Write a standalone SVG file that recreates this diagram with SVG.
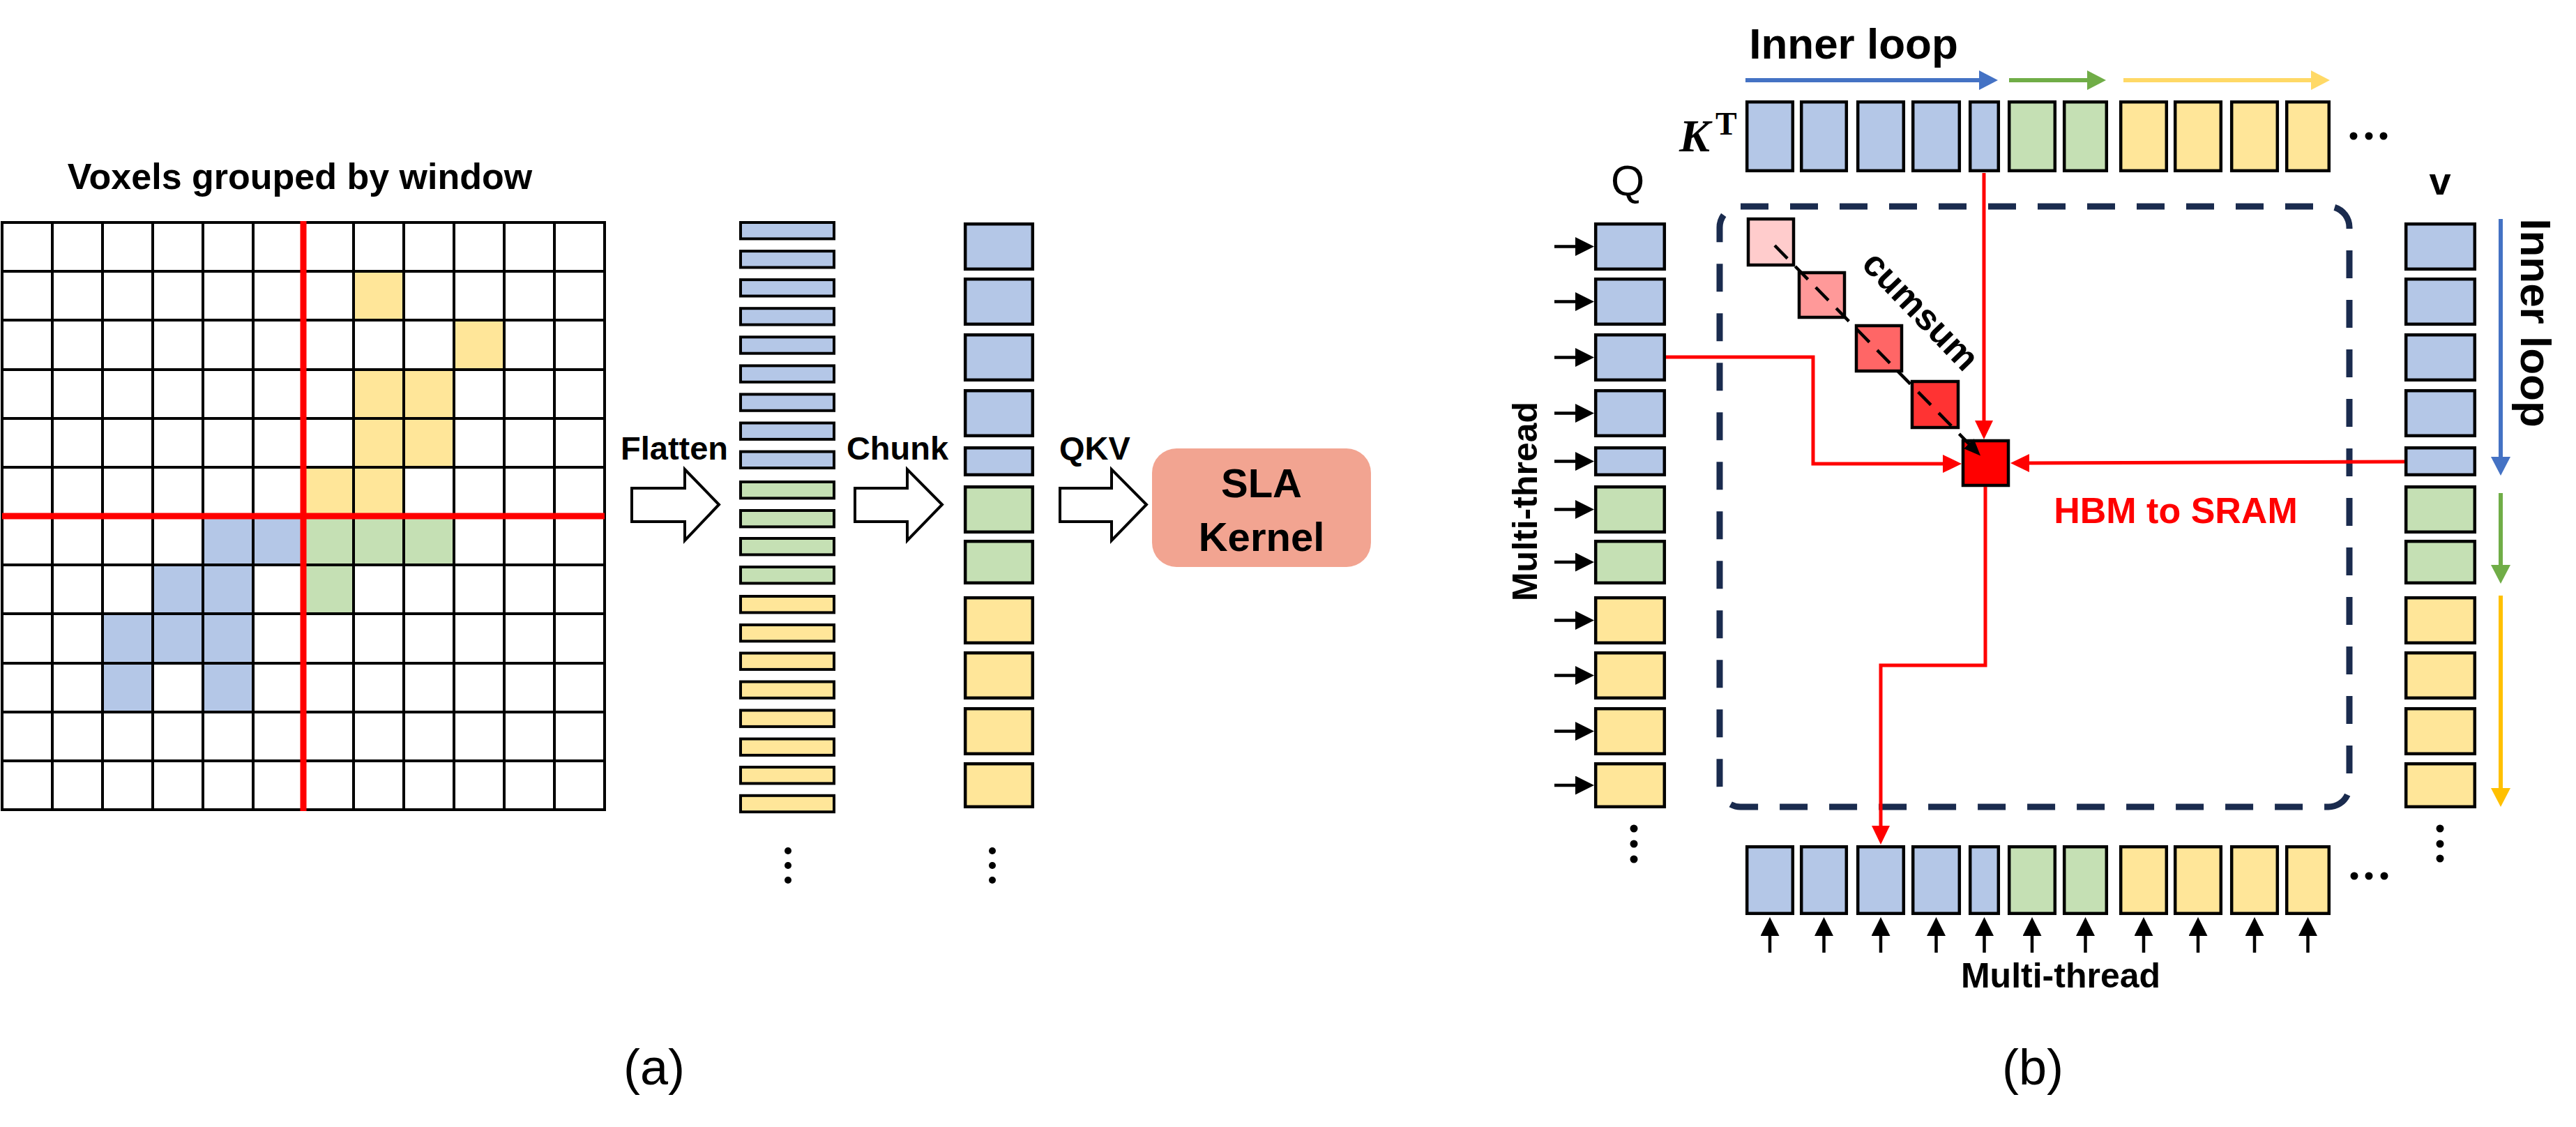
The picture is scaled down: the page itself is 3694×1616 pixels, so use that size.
<svg xmlns="http://www.w3.org/2000/svg" width="3694" height="1616" viewBox="0 0 3694 1616">
<style>
.t{font-family:"Liberation Sans",Arial,sans-serif;fill:#000}
.b{font-weight:bold}
.cb{fill:#B4C7E7;stroke:#000;stroke-width:4.5}
.cg{fill:#C5E0B4;stroke:#000;stroke-width:4.5}
.cy{fill:#FFE699;stroke:#000;stroke-width:4.5}
.fb{fill:#B4C7E7;stroke:#000;stroke-width:4}
.fg{fill:#C5E0B4;stroke:#000;stroke-width:4}
.fy{fill:#FFE699;stroke:#000;stroke-width:4}
.blk{fill:#000}
.red{stroke:#FF0000;stroke-width:5;fill:none}
.bar{stroke:#000;stroke-width:4;fill:#fff}
.thr{stroke:#000;stroke-width:4.5;fill:none}
</style>
<defs>
<marker id="mRed" markerUnits="userSpaceOnUse" viewBox="0 0 27 26" markerWidth="27" markerHeight="26" refX="1" refY="13" orient="auto"><path d="M0,0 L27,13 L0,26 Z" fill="#FF0000"/></marker>
<marker id="mBlk" markerUnits="userSpaceOnUse" viewBox="0 0 27 27" markerWidth="27" markerHeight="27" refX="1" refY="13.5" orient="auto"><path d="M0,0 L27,13.5 L0,27 Z" fill="#000"/></marker>
<marker id="mCum" markerUnits="userSpaceOnUse" viewBox="0 0 24 20" markerWidth="24" markerHeight="20" refX="1" refY="10" orient="auto"><path d="M0,0 L24,10 L0,20 Z" fill="#000"/></marker>
<marker id="mBlue" markerUnits="userSpaceOnUse" viewBox="0 0 27 28" markerWidth="27" markerHeight="28" refX="1" refY="14" orient="auto"><path d="M0,0 L27,14 L0,28 Z" fill="#4472C4"/></marker>
<marker id="mGreen" markerUnits="userSpaceOnUse" viewBox="0 0 27 28" markerWidth="27" markerHeight="28" refX="1" refY="14" orient="auto"><path d="M0,0 L27,14 L0,28 Z" fill="#70AD47"/></marker>
<marker id="mYel" markerUnits="userSpaceOnUse" viewBox="0 0 27 28" markerWidth="27" markerHeight="28" refX="1" refY="14" orient="auto"><path d="M0,0 L27,14 L0,28 Z" fill="#FFD966"/></marker>
<marker id="mGold" markerUnits="userSpaceOnUse" viewBox="0 0 27 28" markerWidth="27" markerHeight="28" refX="1" refY="14" orient="auto"><path d="M0,0 L27,14 L0,28 Z" fill="#FFC000"/></marker>
</defs>
<rect width="3694" height="1616" fill="#fff"/>

<!-- ===== Panel (a) ===== -->
<g id="voxel-grid">
<text class="t b" x="430" y="271" font-size="52" text-anchor="middle">Voxels grouped by window</text>
<g id="yellow-voxels" fill="#FFE699">
<rect x="507" y="389" width="72" height="70"/>
<rect x="651" y="459" width="72" height="71"/>
<rect x="507" y="530" width="72" height="70"/><rect x="579" y="530" width="72" height="70"/>
<rect x="507" y="600" width="72" height="70"/><rect x="579" y="600" width="72" height="70"/>
<rect x="435" y="670" width="72" height="70"/><rect x="507" y="670" width="72" height="70"/>
</g>
<g id="blue-voxels" fill="#B4C7E7">
<rect x="291" y="740" width="72" height="70"/><rect x="363" y="740" width="72" height="70"/>
<rect x="219" y="810" width="72" height="70"/><rect x="291" y="810" width="72" height="70"/>
<rect x="147" y="880" width="72" height="71"/><rect x="219" y="880" width="72" height="71"/><rect x="291" y="880" width="72" height="71"/>
<rect x="147" y="951" width="72" height="70"/><rect x="291" y="951" width="72" height="70"/>
</g>
<g id="green-voxels" fill="#C5E0B4">
<rect x="435" y="740" width="72" height="70"/><rect x="507" y="740" width="72" height="70"/><rect x="579" y="740" width="72" height="70"/>
<rect x="435" y="810" width="72" height="70"/>
</g>
<path d="M3 319V1161M75 319V1161M147 319V1161M219 319V1161M291 319V1161M363 319V1161M507 319V1161M579 319V1161M651 319V1161M723 319V1161M795 319V1161M867 319V1161M3 319H867M3 389H867M3 459H867M3 530H867M3 600H867M3 670H867M3 810H867M3 880H867M3 951H867M3 1021H867M3 1091H867M3 1161H867" stroke="#000" stroke-width="4" fill="none" stroke-linecap="square"/>
<path d="M435 317V1163M3 740H867" stroke="#FF0000" stroke-width="9" fill="none"/>
</g>

<g id="flatten-arrow">
<path class="bar" d="M906 700H982V673L1031 723.5L982 775V748H906Z"/>
<text class="t b" x="967" y="659" font-size="47" text-anchor="middle">Flatten</text>
</g>

<g id="flattened-tokens">
<rect class="fb" x="1062" y="319" width="134" height="23.4"/>
<rect class="fb" x="1062" y="360.1" width="134" height="23.4"/>
<rect class="fb" x="1062" y="401.1" width="134" height="23.4"/>
<rect class="fb" x="1062" y="442.2" width="134" height="23.4"/>
<rect class="fb" x="1062" y="483.3" width="134" height="23.4"/>
<rect class="fb" x="1062" y="524.4" width="134" height="23.4"/>
<rect class="fb" x="1062" y="565.4" width="134" height="23.4"/>
<rect class="fb" x="1062" y="606.5" width="134" height="23.4"/>
<rect class="fb" x="1062" y="647.6" width="134" height="23.4"/>
<rect class="fg" x="1062" y="691" width="134" height="23.4"/>
<rect class="fg" x="1062" y="732" width="134" height="23.4"/>
<rect class="fg" x="1062" y="772" width="134" height="23.4"/>
<rect class="fg" x="1062" y="813" width="134" height="23.4"/>
<rect class="fy" x="1062" y="855" width="134" height="23.4"/>
<rect class="fy" x="1062" y="896" width="134" height="23.4"/>
<rect class="fy" x="1062" y="936.5" width="134" height="23.4"/>
<rect class="fy" x="1062" y="977.5" width="134" height="23.4"/>
<rect class="fy" x="1062" y="1018.5" width="134" height="23.4"/>
<rect class="fy" x="1062" y="1059.5" width="134" height="23.4"/>
<rect class="fy" x="1062" y="1100" width="134" height="23.4"/>
<rect class="fy" x="1062" y="1140.8" width="134" height="23.4"/>
<circle class="blk" cx="1130" cy="1220" r="5"/><circle class="blk" cx="1130" cy="1241" r="5"/><circle class="blk" cx="1130" cy="1262" r="5"/>
</g>

<g id="chunk-arrow">
<path class="bar" d="M1226 700H1301V673L1351 723.5L1301 775V748H1226Z"/>
<text class="t b" x="1287" y="659" font-size="47" text-anchor="middle">Chunk</text>
</g>

<g id="chunks">
<rect class="cb" x="1384.2" y="321.2" width="96.6" height="64.6"/>
<rect class="cb" x="1384.2" y="400.2" width="96.6" height="64.6"/>
<rect class="cb" x="1384.2" y="480.2" width="96.6" height="64.6"/>
<rect class="cb" x="1384.2" y="560.2" width="96.6" height="64.6"/>
<rect class="cb" x="1384.2" y="642.2" width="96.6" height="38.6"/>
<rect class="cg" x="1384.2" y="698.2" width="96.6" height="64.6"/>
<rect class="cg" x="1384.2" y="776.2" width="96.6" height="59.6"/>
<rect class="cy" x="1384.2" y="857.2" width="96.6" height="64.6"/>
<rect class="cy" x="1384.2" y="936.2" width="96.6" height="64.6"/>
<rect class="cy" x="1384.2" y="1016.2" width="96.6" height="64.6"/>
<rect class="cy" x="1384.2" y="1095.2" width="96.6" height="61.6"/>
<circle class="blk" cx="1423" cy="1220" r="5"/><circle class="blk" cx="1423" cy="1241" r="5"/><circle class="blk" cx="1423" cy="1262" r="5"/>
</g>

<g id="qkv-arrow">
<path class="bar" d="M1520 700H1594V673L1644 723.5L1594 775V748H1520Z"/>
<text class="t b" x="1570" y="659" font-size="47" text-anchor="middle">QKV</text>
</g>

<g id="sla-kernel">
<rect x="1652" y="643" width="314" height="170" rx="35" fill="#F2A491"/>
<text class="t b" x="1809" y="713" font-size="58" text-anchor="middle">SLA</text>
<text class="t b" x="1809" y="790" font-size="58" text-anchor="middle">Kernel</text>
</g>

<text id="label-a" class="t" x="938" y="1555" font-size="72" text-anchor="middle">(a)</text>

<!-- ===== Panel (b) ===== -->
<g id="inner-loop-top">
<text class="t b" x="2658" y="84" font-size="62" text-anchor="middle">Inner loop</text>
</g>

<g id="kt-row">
<text x="2408" y="217" font-family="'Liberation Serif','Times New Roman',serif" font-size="66" font-style="italic" font-weight="bold">K</text>
<text x="2460" y="193" font-family="'Liberation Serif','Times New Roman',serif" font-size="46" font-weight="bold">T</text>
<rect class="cb" x="2505.2" y="146.2" width="65.6" height="98.6"/>
<rect class="cb" x="2583.2" y="146.2" width="64.6" height="98.6"/>
<rect class="cb" x="2664.2" y="146.2" width="65.6" height="98.6"/>
<rect class="cb" x="2743.2" y="146.2" width="66.6" height="98.6"/>
<rect class="cb" x="2825.2" y="146.2" width="40.6" height="98.6"/>
<rect class="cg" x="2881.2" y="146.2" width="65.6" height="98.6"/>
<rect class="cg" x="2960.2" y="146.2" width="60.6" height="98.6"/>
<rect class="cy" x="3041.2" y="146.2" width="65.6" height="98.6"/>
<rect class="cy" x="3119.2" y="146.2" width="65.6" height="98.6"/>
<rect class="cy" x="3200.2" y="146.2" width="65.6" height="98.6"/>
<rect class="cy" x="3279.2" y="146.2" width="60.6" height="98.6"/>
<circle class="blk" cx="3375" cy="195" r="5.5"/><circle class="blk" cx="3397" cy="195" r="5.5"/><circle class="blk" cx="3418" cy="195" r="5.5"/>
</g>

<g id="q-column">
<text class="t" x="2334" y="280" font-size="62" text-anchor="middle">Q</text>
<rect class="cb" x="2288.2" y="321.2" width="98.6" height="64.6"/>
<rect class="cb" x="2288.2" y="400.2" width="98.6" height="64.6"/>
<rect class="cb" x="2288.2" y="480.2" width="98.6" height="64.6"/>
<rect class="cb" x="2288.2" y="560.2" width="98.6" height="64.6"/>
<rect class="cb" x="2288.2" y="642.2" width="98.6" height="38.6"/>
<rect class="cg" x="2288.2" y="698.2" width="98.6" height="64.6"/>
<rect class="cg" x="2288.2" y="776.2" width="98.6" height="59.6"/>
<rect class="cy" x="2288.2" y="857.2" width="98.6" height="64.6"/>
<rect class="cy" x="2288.2" y="936.2" width="98.6" height="64.6"/>
<rect class="cy" x="2288.2" y="1016.2" width="98.6" height="64.6"/>
<rect class="cy" x="2288.2" y="1095.2" width="98.6" height="61.6"/>
<circle class="blk" cx="2343" cy="1188" r="5.5"/><circle class="blk" cx="2343" cy="1210" r="5.5"/><circle class="blk" cx="2343" cy="1232" r="5.5"/>
<text class="t b" transform="translate(2186,719) rotate(-90)" x="0" y="18" font-size="50" text-anchor="middle">Multi-thread</text>
</g>

<g id="v-column">
<text class="t b" x="3499" y="279" font-size="56" text-anchor="middle">v</text>
<rect class="cb" x="3450.2" y="321.2" width="98.6" height="64.6"/>
<rect class="cb" x="3450.2" y="400.2" width="98.6" height="64.6"/>
<rect class="cb" x="3450.2" y="480.2" width="98.6" height="64.6"/>
<rect class="cb" x="3450.2" y="560.2" width="98.6" height="64.6"/>
<rect class="cb" x="3450.2" y="642.2" width="98.6" height="38.6"/>
<rect class="cg" x="3450.2" y="698.2" width="98.6" height="64.6"/>
<rect class="cg" x="3450.2" y="776.2" width="98.6" height="59.6"/>
<rect class="cy" x="3450.2" y="857.2" width="98.6" height="64.6"/>
<rect class="cy" x="3450.2" y="936.2" width="98.6" height="64.6"/>
<rect class="cy" x="3450.2" y="1016.2" width="98.6" height="64.6"/>
<rect class="cy" x="3450.2" y="1095.2" width="98.6" height="61.6"/>
<circle class="blk" cx="3499" cy="1188" r="5.5"/><circle class="blk" cx="3499" cy="1210" r="5.5"/><circle class="blk" cx="3499" cy="1231" r="5.5"/>
<text class="t b" transform="translate(3615,463) rotate(90)" x="0" y="0" font-size="62" text-anchor="middle">Inner loop</text>
</g>

<g id="output-row">
<rect class="cb" x="2505.2" y="1214.2" width="65.6" height="95.6"/>
<rect class="cb" x="2583.2" y="1214.2" width="64.6" height="95.6"/>
<rect class="cb" x="2664.2" y="1214.2" width="65.6" height="95.6"/>
<rect class="cb" x="2743.2" y="1214.2" width="66.6" height="95.6"/>
<rect class="cb" x="2825.2" y="1214.2" width="40.6" height="95.6"/>
<rect class="cg" x="2881.2" y="1214.2" width="65.6" height="95.6"/>
<rect class="cg" x="2960.2" y="1214.2" width="60.6" height="95.6"/>
<rect class="cy" x="3041.2" y="1214.2" width="65.6" height="95.6"/>
<rect class="cy" x="3119.2" y="1214.2" width="65.6" height="95.6"/>
<rect class="cy" x="3200.2" y="1214.2" width="65.6" height="95.6"/>
<rect class="cy" x="3279.2" y="1214.2" width="60.6" height="95.6"/>
<circle class="blk" cx="3376" cy="1256" r="5.5"/><circle class="blk" cx="3397" cy="1256" r="5.5"/><circle class="blk" cx="3419" cy="1256" r="5.5"/>
<text class="t b" x="2955" y="1416" font-size="50" text-anchor="middle">Multi-thread</text>
</g>

<g id="sram-block">
<rect x="2466" y="296" width="903" height="861" rx="30" fill="none" stroke="#1A2B4E" stroke-width="9" stroke-dasharray="40 31"/>
</g>

<g id="cumsum-blocks">
<rect x="2507" y="314" width="65" height="66" fill="#FFCCCC" stroke="#000" stroke-width="4.5"/>
<rect x="2580" y="391" width="65" height="64" fill="#FF9999" stroke="#000" stroke-width="4.5"/>
<rect x="2662" y="467" width="65" height="65" fill="#FF6666" stroke="#000" stroke-width="4.5"/>
<rect x="2742" y="547" width="66" height="66" fill="#FF3333" stroke="#000" stroke-width="4.5"/>
<rect x="2815" y="632" width="65" height="64" fill="#FF0000" stroke="#000" stroke-width="4.5"/>
<text class="t b" transform="translate(2752,448) rotate(46)" x="0" y="14" font-size="52" text-anchor="middle">cumsum</text>
</g>

<g id="connectors">
<g class="thr" marker-end="url(#mBlk)">
<path d="M2229 353.5H2260"/><path d="M2229 432.5H2260"/><path d="M2229 512.5H2260"/><path d="M2229 592.5H2260"/>
<path d="M2229 661.5H2260"/><path d="M2229 730.5H2260"/><path d="M2229 806H2260"/><path d="M2229 889.5H2260"/>
<path d="M2229 968.5H2260"/><path d="M2229 1048.5H2260"/><path d="M2229 1126H2260"/>
<path d="M2538 1366V1341"/><path d="M2615.5 1366V1341"/><path d="M2697 1366V1341"/><path d="M2776.5 1366V1341"/>
<path d="M2845.5 1366V1341"/><path d="M2914 1366V1341"/><path d="M2990.5 1366V1341"/><path d="M3074 1366V1341"/>
<path d="M3152 1366V1341"/><path d="M3233 1366V1341"/><path d="M3309.5 1366V1341"/>
</g>
<path d="M2503 115H2839" stroke="#4472C4" stroke-width="6" marker-end="url(#mBlue)"/>
<path d="M2881 115H2994" stroke="#70AD47" stroke-width="6" marker-end="url(#mGreen)"/>
<path d="M3045 115H3315" stroke="#FFD966" stroke-width="6" marker-end="url(#mYel)"/>
<path d="M3586 314V656" stroke="#4472C4" stroke-width="6" marker-end="url(#mBlue)"/>
<path d="M3586 707V811" stroke="#70AD47" stroke-width="6" marker-end="url(#mGreen)"/>
<path d="M3586 854V1131" stroke="#FFC000" stroke-width="6" marker-end="url(#mGold)"/>
<path class="red" d="M2389 512H2600V665H2787" marker-end="url(#mRed)"/>
<path class="red" d="M2845 248V604" marker-end="url(#mRed)"/>
<path class="red" d="M3448 662L2909 664" marker-end="url(#mRed)"/>
<path class="red" d="M2847 698V954H2697V1185" marker-end="url(#mRed)"/>
<path d="M2545 352L2824 637" stroke="#000" stroke-width="4.5" stroke-dasharray="26 16" fill="none" marker-end="url(#mCum)"/>
</g>
<text id="hbm-label" class="t b" x="3120" y="750" font-size="52" text-anchor="middle" style="fill:#FF0000">HBM to SRAM</text>

<text id="label-b" class="t" x="2915" y="1555" font-size="72" text-anchor="middle">(b)</text>
</svg>
